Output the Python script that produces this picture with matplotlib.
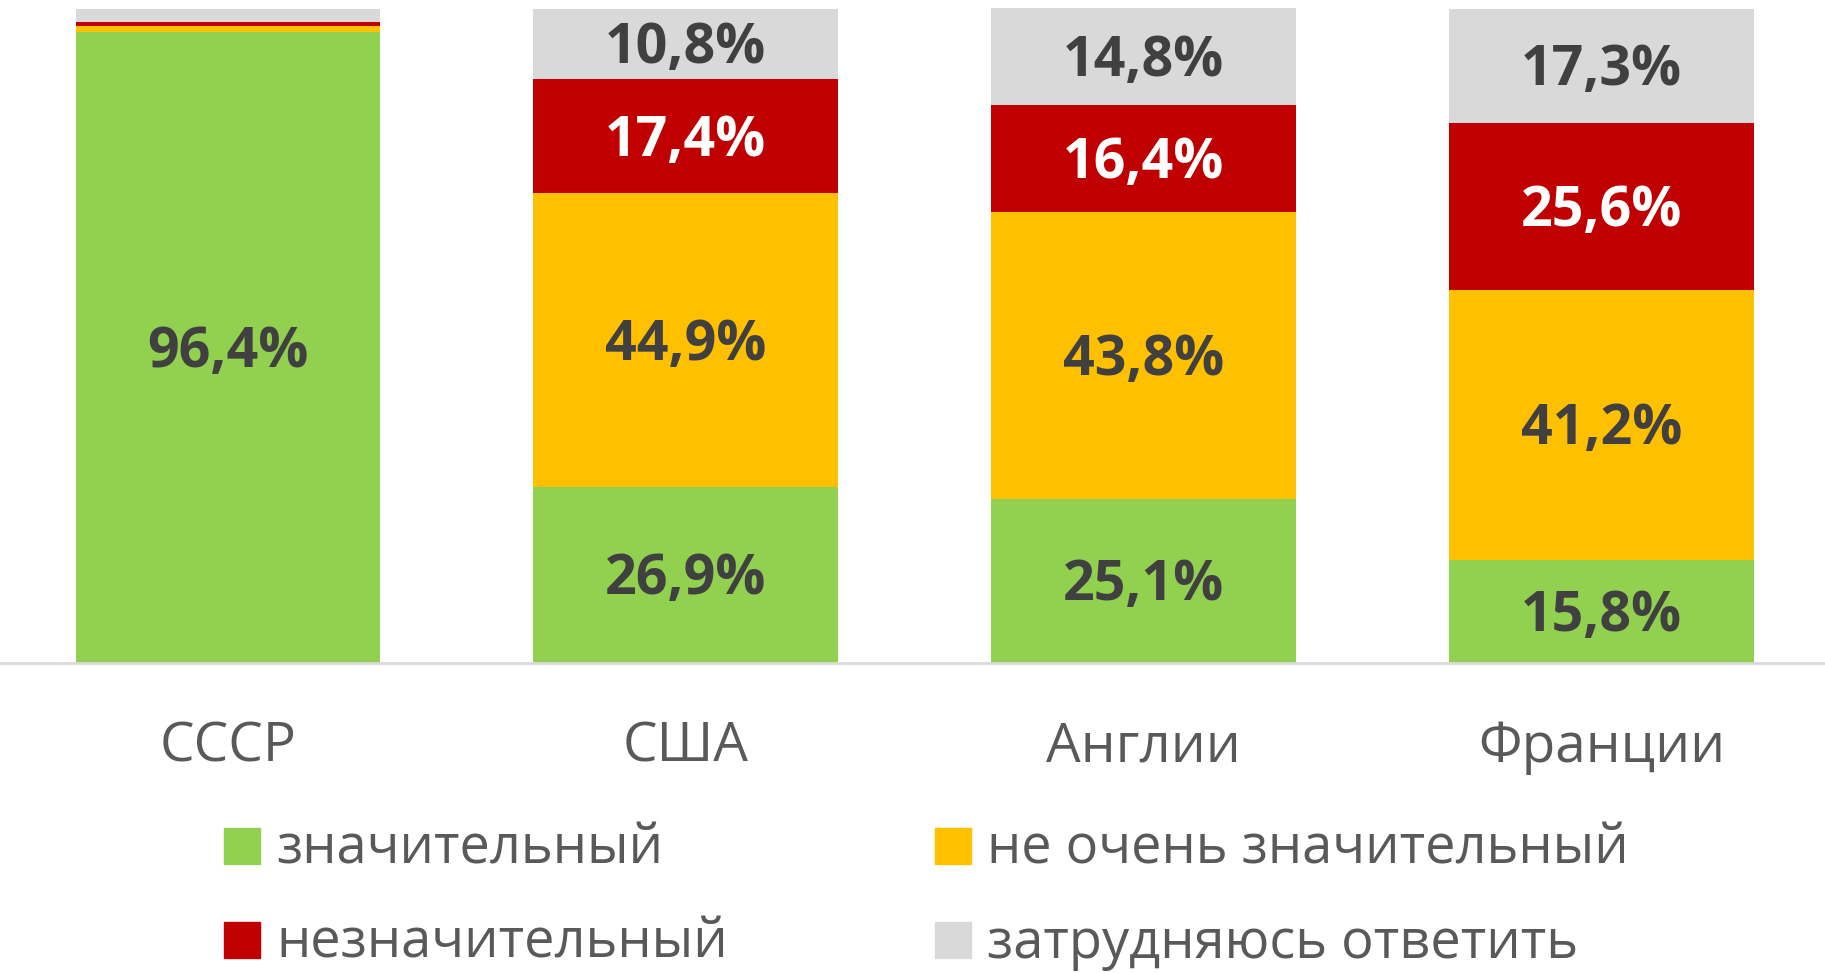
import matplotlib
matplotlib.use("Agg")
import matplotlib.pyplot as plt
from matplotlib.patches import Rectangle
import matplotlib.transforms as mtransforms
import numpy as np

plt.rcParams['font.family'] = ['Open Sans', 'DejaVu Sans']

categories = ["СССР", "США", "Англии", "Франции"]
series_names = ["значительный", "не очень значительный", "незначительный", "затрудняюсь ответить"]
significant = [96.4, 26.9, 25.1, 15.8]
not_very = [1.0, 44.9, 43.8, 41.2]
insignificant = [0.5, 17.4, 16.4, 25.6]
hard_to_say = [2.1, 10.8, 14.8, 17.3]
colors = ["#92D050", "#FFC000", "#C00000", "#D9D9D9"]
label_colors = ["#404040", "#404040", "#FFFFFF", "#404040"]

W, H = 1825, 973
fig = plt.figure(figsize=(W / 100, H / 100), dpi=100)
ax = fig.add_axes([0, 1 - 663 / H, 1, (663 - 8) / H])

x = np.arange(len(categories))
series = [significant, not_very, insignificant, hard_to_say]
bottom = np.zeros(len(categories))
down = mtransforms.offset_copy(ax.transData, fig=fig, x=0, y=-5, units='dots')
for vals, col, lc in zip(series, colors, label_colors):
    vals = np.array(vals)
    ax.bar(x, vals, bottom=bottom, width=0.666, color=col, edgecolor='none')
    for xi, v, b in zip(x, vals, bottom):
        if v >= 5:
            ax.text(xi, b + v / 2, f"{v:.1f}".replace('.', ',') + "%", ha='center', va='center',
                    fontsize=40, fontweight='bold', color=lc, transform=down)
    bottom += vals

ax.set_xlim(-0.498, 3.488)
ax.set_ylim(0, bottom.max())
for s in ['top', 'right', 'left']:
    ax.spines[s].set_visible(False)
ax.spines['bottom'].set_color('#D9D9D9')
ax.spines['bottom'].set_linewidth(2)
ax.set_yticks([])
ax.set_xticks(x)
ax.set_xticklabels(categories, fontsize=39.5, color='#595959')
ax.tick_params(axis='x', length=0, pad=41)

# legend
leg_x = [224, 935]
leg_y = [864, 958]  # marker bottom / text baseline
order = [(0, 0, 0), (1, 1, 0), (2, 0, 1), (3, 1, 1)]
for idx, c, r in order:
    px, py = leg_x[c], leg_y[r]
    fig.patches.append(Rectangle((px / W, 1 - py / H), 36 / W, 36 / H,
                                 transform=fig.transFigure, color=colors[idx], zorder=5))
    fig.text((px + 52) / W, 1 - py / H, series_names[idx], fontsize=39, color='#595959',
             ha='left', va='baseline')

fig.savefig("out.png", dpi=100)
